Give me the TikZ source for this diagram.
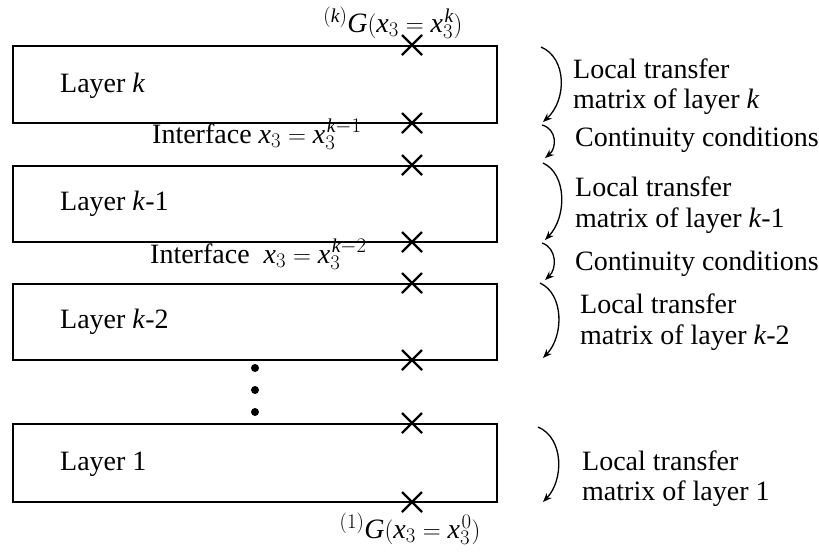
\documentclass[tikz,border=0pt]{standalone}
\usepackage{fontspec}
\setmainfont{Liberation Serif}
\usetikzlibrary{arrows.meta}
\begin{document}
\begin{tikzpicture}[x=1pt,y=-1pt,
  layerbox/.style={draw,line width=2pt},
  crossmark/.style={line width=2.2pt},
  txt/.style={anchor=base west,inner sep=0pt,font=\fontsize{28}{31}\selectfont},
  formula/.style={anchor=base,inner sep=0pt,font=\fontsize{28}{31}\selectfont},
  curvearrow/.style={line width=1.3pt,-{Stealth[length=9pt,width=7pt]}},
  dotmark/.style={fill,circle,inner sep=0pt,minimum size=8pt}]
\useasboundingbox (0,0) rectangle (819,558);
% boxes
\draw[layerbox] (13,46) rectangle (497,123);
\draw[layerbox] (13,166) rectangle (497,242);
\draw[layerbox] (13,284) rectangle (497,360);
\draw[layerbox] (13,424) rectangle (497,502);
% crosses
\foreach \y in {45,123,165,242,283,360,423,502}{
  \draw[crossmark] (402,\y-10) -- (422,\y+10) (402,\y+10) -- (422,\y-10);
}
% layer labels
\node[txt] (lk) at (60,92) {Layer \textit{k}};
\node[txt] (lk1) at (60,210) {Layer \textit{k}-1};
\node[txt] (lk2) at (60,328) {Layer \textit{k}-2};
\node[txt] (l1) at (60,470) {Layer 1};
% interfaces
\node[txt] (if1) at (152,143) {Interface $\mathit{x}_3 = \mathit{x}_3^{\kern1.5pt\mathit{k}-1}$};
\node[txt] (if2) at (150,263) {Interface\ \ $\mathit{x}_3 = \mathit{x}_3^{\kern1.5pt\mathit{k}-2}$};
% G labels
\node[formula] (gtop) at (393,32) {${}^{(\mathit{k})}\mathit{G}(\mathit{x}_3 = \mathit{x}_3^{\kern1.5pt\mathit{k}})$};
\node[formula] (gbot) at (410,538) {${}^{(1)}\mathit{G}(\mathit{x}_3 = \mathit{x}_3^{\kern1.5pt 0})$};
% dots
\node[dotmark] (d1) at (255,368) {};
\node[dotmark] (d2) at (255,390) {};
\node[dotmark] (d3) at (255,412) {};
% right texts
\node[txt] (t1a) at (573,78) {Local transfer};
\node[txt] (t1b) at (573,108) {matrix of layer \textit{k}};
\node[txt] (c1) at (575,146) {Continuity conditions};
\node[txt] (t2a) at (575,196) {Local transfer};
\node[txt] (t2b) at (575,227) {matrix of layer \textit{k}-1};
\node[txt] (c2) at (575,270) {Continuity conditions};
\node[txt] (t3a) at (580,313) {Local transfer};
\node[txt] (t3b) at (580,344) {matrix of layer \textit{k}-2};
\node[txt] (t4a) at (582,470) {Local transfer};
\node[txt] (t4b) at (582,500) {matrix of layer 1};
% arc endpoints
\coordinate (a1s) at (541,47);  \coordinate (a1e) at (543,122);
\coordinate (b1s) at (542,125); \coordinate (b1e) at (545,158);
\coordinate (a2s) at (543,163); \coordinate (a2e) at (545,240);
\coordinate (b2s) at (542,243); \coordinate (b2e) at (545,280);
\coordinate (a3s) at (540,283); \coordinate (a3e) at (543,358);
\coordinate (a4s) at (538,427); \coordinate (a4e) at (543,502);
\draw[curvearrow] (a1s) .. controls (567,58) and (567,100) .. (a1e);
\draw[curvearrow] (b1s) .. controls (557,129) and (557,148) .. (b1e);
\draw[curvearrow] (a2s) .. controls (567,174) and (567,217) .. (a2e);
\draw[curvearrow] (b2s) .. controls (557,248) and (557,269) .. (b2e);
\draw[curvearrow] (a3s) .. controls (564,294) and (564,336) .. (a3e);
\draw[curvearrow] (a4s) .. controls (564,438) and (564,480) .. (a4e);
\end{tikzpicture}
\end{document}
